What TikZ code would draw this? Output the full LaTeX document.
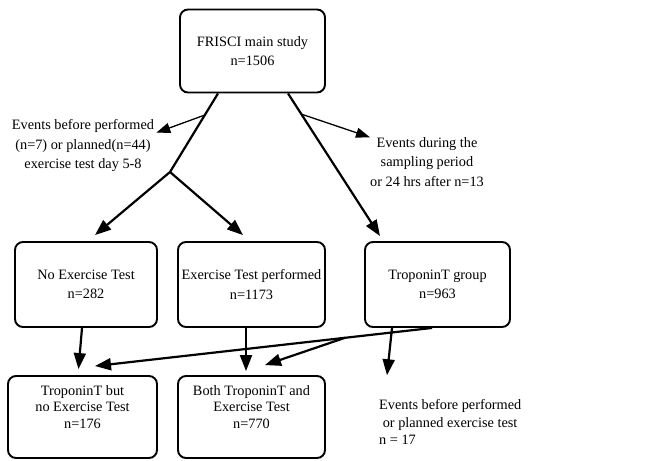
\documentclass[tikz,border=0pt]{standalone}
\usepackage{fontspec}
\setmainfont{Liberation Serif}
\usetikzlibrary{arrows.meta,calc}
\begin{document}
\begin{tikzpicture}[x=1pt,y=-1pt,
	box/.style={draw, rounded corners=8pt, line width=1.9pt, align=center, inner sep=0pt},
	note/.style={align=center, inner sep=0pt},
	flow/.style={line width=2.2pt, -{Triangle[length=16pt,width=12pt]}},
	aside/.style={line width=1.3pt, -{Triangle[length=14pt,width=10pt]}}]
	\tikzstyle{every node}=[font=\fontsize{14.3}{19.5}\selectfont]
	\useasboundingbox (0,0) rectangle (655,460);
	
	\node[box, minimum width=145pt, minimum height=83pt] at (252.5,51) (main) {FRISCI main study\\n=1506};
	\node[box, minimum width=142pt, minimum height=85pt] at (86,284.5) (noex) {No Exercise Test\\n=282};
	\node[box, minimum width=147pt, minimum height=85pt] at (251.5,284.5) (exdone) {Exercise Test performed\\n=1173};
	\node[box, minimum width=145pt, minimum height=85pt] at (437.5,284.5) (tropgroup) {TroponinT group\\n=963};
	\node[box, minimum width=149pt, minimum height=82pt, font=\fontsize{14.3}{16.5}\selectfont] at (82.5,417) (tropnoex) {TroponinT but\\no Exercise Test\\n=176\\[4pt]};
	\node[box, minimum width=147pt, minimum height=82pt, font=\fontsize{14.3}{16.5}\selectfont] at (251.5,417) (both) {Both TroponinT and\\Exercise Test\\n=770\\[4pt]};
	
	\node[note] at (83,146) (ev1) {Events before performed\\(n=7) or planned(n=44)\\exercise test day 5-8};
	\node[note] at (427,162) (ev2) {Events during the\\sampling period\\or 24 hrs after n=13};
	\node[note, align=left, anchor=west, font=\fontsize{14.3}{17.5}\selectfont] at (379,422) (ev3) {Events before performed\\\ or planned exercise test\\n = 17};
	
	% split below the main study
	\coordinate (j) at (170,172);
	\coordinate (ml) at ([xshift=-34.5pt]main.south);
	\coordinate (mr) at ([xshift=35.5pt]main.south);
	\draw[line width=2.2pt] (ml) -- (j);
	\draw[flow] (j) -- ([xshift=9pt,yshift=6pt]noex.north);
	\draw[flow] (j) -- ([xshift=-8.5pt,yshift=6pt]exdone.north);
	\draw[flow] (mr) -- ([xshift=-57.5pt,yshift=5pt]tropgroup.north);
	\draw[aside] ($(ml)!0.275!(j)$) -- ([xshift=2pt,yshift=-13pt]ev1.north east);
	\draw[aside] ($(mr)!0.145!([xshift=-57.5pt,yshift=5pt]tropgroup.north)$) -- ([xshift=0pt,yshift=0pt]ev2.north west);
	
	% second row to third row
	\coordinate (t1) at ([xshift=-5.5pt]tropgroup.south);
	\coordinate (t2) at ([xshift=12.5pt,yshift=9pt]tropnoex.north);
	\draw[flow] ([xshift=-4pt]noex.south) -- ([xshift=-4pt,yshift=6pt]tropnoex.north);
	\draw[flow] ([xshift=-5.5pt]exdone.south) -- ([xshift=-5.5pt,yshift=4pt]both.north);
	\draw[flow] (t1) -- (t2);
	\draw[flow] ($(t1)!0.258!(t2)$) -- ([xshift=13.5pt,yshift=10pt]both.north);
	\draw[flow] ([xshift=-45.5pt]tropgroup.south) -- ([xshift=8pt,yshift=24pt]ev3.north west);
	
\end{tikzpicture}
\end{document}
